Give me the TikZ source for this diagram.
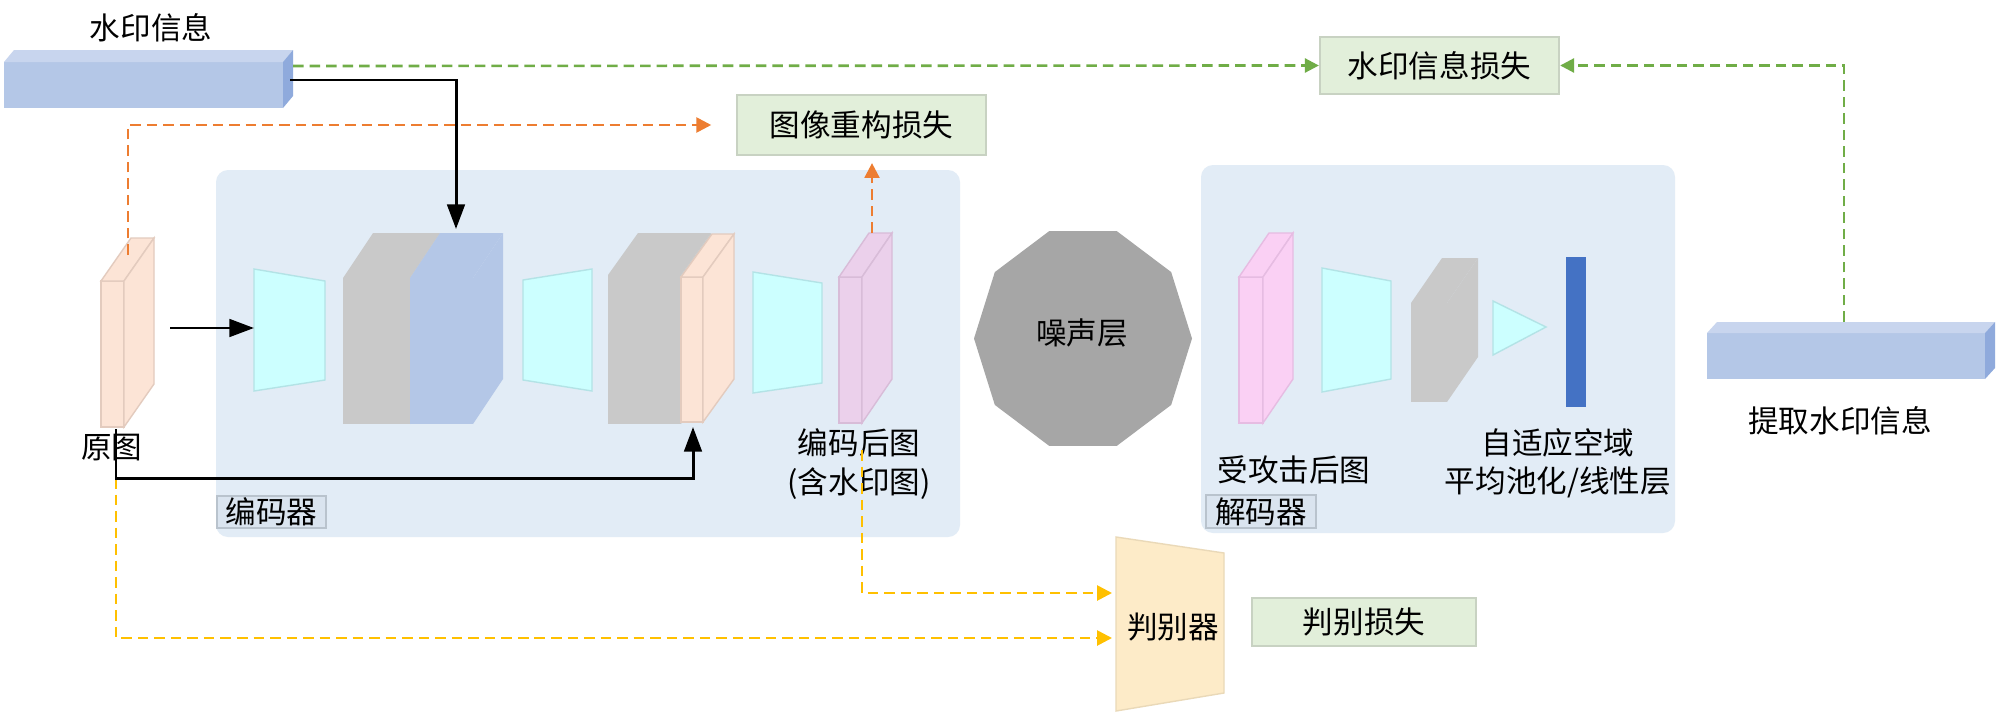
\documentclass[tikz,border=0pt]{standalone}
\usepackage{fontspec}
\newfontfamily\cjk{Noto Sans CJK SC}
\usetikzlibrary{arrows.meta}
\definecolor{bgblue}{HTML}{E2ECF6}
\definecolor{lblfill}{HTML}{DAE4EF}
\definecolor{lblline}{HTML}{B9C3CD}
\definecolor{lossfill}{HTML}{E2EFDA}
\definecolor{lossline}{HTML}{C8D2C2}
\definecolor{cyanf}{HTML}{CCFFFF}
\definecolor{cyanl}{HTML}{B3E3E6}
\definecolor{peach}{HTML}{FCE4D6}
\definecolor{peachl}{HTML}{E3CBBE}
\definecolor{pinkA}{HTML}{EBD0EB}
\definecolor{pinkAl}{HTML}{D8BCD8}
\definecolor{pinkB}{HTML}{FAD0F4}
\definecolor{pinkBl}{HTML}{E6BCE2}
\definecolor{grayb}{HTML}{C9C9C9}
\definecolor{noisef}{HTML}{A6A6A6}
\definecolor{blueb}{HTML}{B4C7E7}
\definecolor{bluetop}{HTML}{C8D5EE}
\definecolor{blueside}{HTML}{8FAADC}
\definecolor{bluebar}{HTML}{4472C4}
\definecolor{grncol}{HTML}{70AD47}
\definecolor{orgcol}{HTML}{ED7D31}
\definecolor{ylwcol}{HTML}{FFC000}
\definecolor{discf}{HTML}{FDEBC8}
\definecolor{discl}{HTML}{EAD9B8}
% cuboid: x1 y1 x2 y2 dx dy frontstyle topstyle sidestyle
\newcommand\mycuboid[9]{%
  \path[#7] (#1,#2) rectangle (#3,#4);
  \path[#8] (#1,#2) -- ({#1+#5},{#2+#6}) -- ({#3+#5},{#2+#6}) -- (#3,#2) -- cycle;
  \path[#9] (#3,#2) -- ({#3+#5},{#2+#6}) -- ({#3+#5},{#4+#6}) -- (#3,#4) -- cycle;
}
\newcommand\mytrap[8]{%
  \path[trapst] (#1,#2) -- (#3,#4) -- (#5,#6) -- (#7,#8) -- cycle;
}
\tikzset{
  txt/.style={font=\cjk\fontsize{8.7pt}{10.3pt}\selectfont, inner sep=0pt, align=center, text=black},
  lossbox/.style={txt, fill=lossfill, draw=lossline, line width=0.6pt},
  lblbox/.style={txt, fill=lblfill, draw=lblline, line width=0.6pt},
  bgpanel/.style={fill=bgblue, rounded corners=0.12cm},
  trapst/.style={fill=cyanf, draw=cyanl, line width=0.4pt},
  bline/.style={draw=black, line width=0.85pt, -{Triangle[length=7pt,width=5pt]}},
  dline/.style={line width=0.75pt, dash pattern=on 3pt off 1.7pt},
  gline/.style={dline, draw=grncol, -{Triangle[length=4pt,width=4pt]}, color=grncol},
  oline/.style={dline, draw=orgcol, -{Triangle[length=4.2pt,width=4.2pt]}, color=orgcol},
  yline/.style={dline, draw=ylwcol, -{Triangle[length=4.2pt,width=4.2pt]}, color=ylwcol},
}
\begin{document}
\begin{tikzpicture}[x=0.01cm, y=-0.01cm]
\useasboundingbox (0,0) rectangle (2000,712);
\fill[white] (0,0) rectangle (2000,712);

% panels
\path[bgpanel] (216,170) rectangle (960,537);
\path[bgpanel] (1201,165) rectangle (1675,533);
\node[lblbox, minimum width=1.09cm, minimum height=0.32cm] (enclbl) at (271.5,512) {编码器};
\node[lblbox, minimum width=1.10cm, minimum height=0.33cm] (declbl) at (1261,511.5) {解码器};

% loss boxes
\node[lossbox, minimum width=2.49cm, minimum height=0.60cm] (recon) at (861.5,125) {图像重构损失};
\node[lossbox, minimum width=2.39cm, minimum height=0.57cm] (wmloss) at (1439.5,65.5) {水印信息损失};
\node[lossbox, minimum width=2.24cm, minimum height=0.48cm] (discloss) at (1364,622) {判别损失};

% watermark bar
\mycuboid{4}{62}{283}{108}{10}{-12}{fill=blueb}{fill=bluetop}{fill=blueside}
\node[txt] (wmtxt) at (151,28) {水印信息};
\coordinate (wmR) at (290,80);
\coordinate (wmG) at (293,66);

% extracted bar
\mycuboid{1707}{333}{1985}{379}{10}{-11}{fill=blueb}{fill=bluetop}{fill=blueside}
\node[txt] (extxt) at (1840,421) {提取水印信息};
\coordinate (exTop) at (1844,322);

% original image slab
\mycuboid{101}{281}{124}{427}{30}{-43}{fill=peach,draw=peachl,line width=0.4pt}{fill=peach,draw=peachl,line width=0.4pt}{fill=peach,draw=peachl,line width=0.4pt}
\node[txt] (origtxt) at (112,448) {原图};
\coordinate (origTop) at (128,255);
\coordinate (origBot) at (116,429);
\coordinate (origOut) at (170,328);
\coordinate (origCorner) at (116,478);

% encoder contents
\mytrap{254}{269}{325}{281}{325}{380}{254}{391}
\coordinate (t1W) at (254,328);
\mycuboid{343}{278}{410}{424}{30}{-45}{fill=grayb}{fill=grayb}{fill=grayb}
\mycuboid{410}{278}{473}{424}{30}{-45}{fill=blueb}{fill=blueb}{fill=blueb}
\coordinate (catTop) at (456,229);
\mytrap{523}{280}{592}{269}{592}{391}{523}{380}
\mycuboid{608}{275}{681}{424}{30}{-42}{fill=grayb}{fill=grayb}{fill=grayb}
\mycuboid{681}{277}{703}{422}{31}{-43}{fill=peach,draw=peachl,line width=0.4pt}{fill=peach,draw=peachl,line width=0.4pt}{fill=peach,draw=peachl,line width=0.4pt}
\coordinate (peachBot) at (693,427);
\mytrap{753}{272}{822}{283}{822}{383}{753}{393}
\mycuboid{839}{277}{862}{423}{30}{-44}{fill=pinkA,draw=pinkAl,line width=0.4pt}{fill=pinkA,draw=pinkAl,line width=0.4pt}{fill=pinkA,draw=pinkAl,line width=0.4pt}
\coordinate (encTop) at (872,233);
\node[txt] (enctxt) at (859,464) {编码后图\\[0.6pt](含水印图)};
\coordinate (encTxtIn) at (862,450);

% noise layer
\fill[noisef] (1192,338.5) \foreach \a in {36,72,...,324} { -- ({1083+109*cos(\a)},{338.5-113*sin(\a)}) } -- cycle;
\node[txt] (noise) at (1082,333) {噪声层};

% decoder contents
\mycuboid{1239}{277}{1263}{423}{30}{-44}{fill=pinkB,draw=pinkBl,line width=0.4pt}{fill=pinkB,draw=pinkBl,line width=0.4pt}{fill=pinkB,draw=pinkBl,line width=0.4pt}
\node[txt] (atktxt) at (1294,470) {受攻击后图};
\mytrap{1322}{268}{1391}{281}{1391}{379}{1322}{392}
\mycuboid{1411}{303}{1447}{402}{31}{-45}{fill=grayb}{fill=grayb}{fill=grayb}
\path[trapst] (1493,301) -- (1546,327) -- (1493,355) -- cycle;
\fill[bluebar] (1566,257) rectangle (1586,407);
\node[txt] (pooltxt) at (1558,463) {自适应空域\\[0.6pt]平均池化/线性层};

% discriminator
\path[fill=discf, draw=discl, line width=0.4pt] (1116,537) -- (1224,553) -- (1224,693) -- (1116,711) -- cycle;
\node[txt] (disc) at (1173,627) {判别器};
\coordinate (discA) at (1112,593);
\coordinate (discB) at (1112,638);

% connectors
\draw[gline] (wmG) -- (wmloss.west);
\draw[gline] (exTop) |- (wmloss.east);
\draw[oline, shorten >=7pt] (origTop) |- (recon.west);
\draw[oline, shorten >=2pt] (encTop) -- (recon.south -| encTop);
\draw[bline] (wmR) -| (catTop);
\draw[bline] (origOut) -- (t1W);
\draw[yline] (origCorner) |- (discB);
\draw[yline] (encTxtIn) |- (discA);
\draw[bline] (origBot) -- (origCorner) -| (peachBot);
\end{tikzpicture}
\end{document}
